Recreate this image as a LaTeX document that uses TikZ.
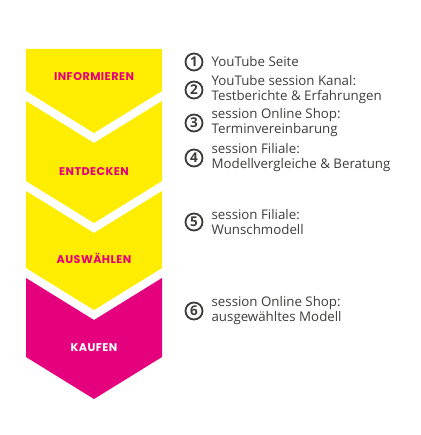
\documentclass[tikz,border=0pt]{standalone}
\usepackage{fontspec}
\usepackage{xcolor}
\usetikzlibrary{positioning}
\setmainfont{Open Sans}
\newfontfamily\chevfont[LetterSpace=4]{Poppins}
\definecolor{chevYellow}{HTML}{FFED00}
\definecolor{chevMagenta}{HTML}{E5007D}
\definecolor{textGray}{HTML}{3C3C3B}

\begin{document}
\begin{tikzpicture}[x=1pt,y=-1pt,
    chevlabel/.style={font=\chevfont\bfseries\fontsize{11.2}{12}\selectfont},
    num/.style={circle,draw=textGray,line width=1.8pt,minimum size=17pt,inner sep=0pt,
        text=textGray,font=\bfseries\fontsize{13.5}{13.5}\selectfont},
    item/.style={align=left,inner sep=2pt,text=textGray,font=\fontsize{13.3}{15}\selectfont}]
    \useasboundingbox (0,0) rectangle (420,435);

    % draw chevrons
    \fill[chevYellow] (26,49) -- (162,49) -- (162,91) -- (94,133) -- (26,91) -- cycle;
    \fill[chevYellow] (26,101) -- (94,143) -- (162,101) -- (162,181) -- (94,223) -- (26,181) -- cycle;
    \fill[chevYellow] (26,191) -- (94,233) -- (162,191) -- (162,268) -- (94,310) -- (26,268) -- cycle;
    \fill[chevMagenta] (26,278) -- (94,320) -- (162,278) -- (162,357) -- (94,399) -- (26,357) -- cycle;

    % draw chevron labels
    \node[chevlabel,text=chevMagenta] (informieren) at (94,77) {INFORMIEREN};
    \node[chevlabel,text=chevMagenta] (entdecken) at (94,172) {ENTDECKEN};
    \node[chevlabel,text=chevMagenta] (auswaehlen) at (94,258) {AUSWÄHLEN};
    \node[chevlabel,text=white] (kaufen) at (94,348) {KAUFEN};

    % draw numbers
    \node[num] (n1) at (194,62) {1};
    \node[num] (n2) at (194,90) {2};
    \node[num] (n3) at (194,123) {3};
    \node[num] (n4) at (194,158) {4};
    \node[num] (n5) at (194,222) {5};
    \node[num] (n6) at (194,311) {6};

    % draw items
    \node[item,right=6pt of n1] (t1) {YouTube Seite};
    \node[item,right=6pt of n2] (t2) {YouTube session Kanal:\\Testberichte \& Erfahrungen};
    \node[item,right=6pt of n3] (t3) {session Online Shop:\\Terminvereinbarung};
    \node[item,right=6pt of n4] (t4) {session Filiale:\\Modellvergleiche \& Beratung};
    \node[item,right=6pt of n5] (t5) {session Filiale:\\Wunschmodell};
    \node[item,right=6pt of n6] (t6) {session Online Shop:\\ausgewähltes Modell};
\end{tikzpicture}
\end{document}
